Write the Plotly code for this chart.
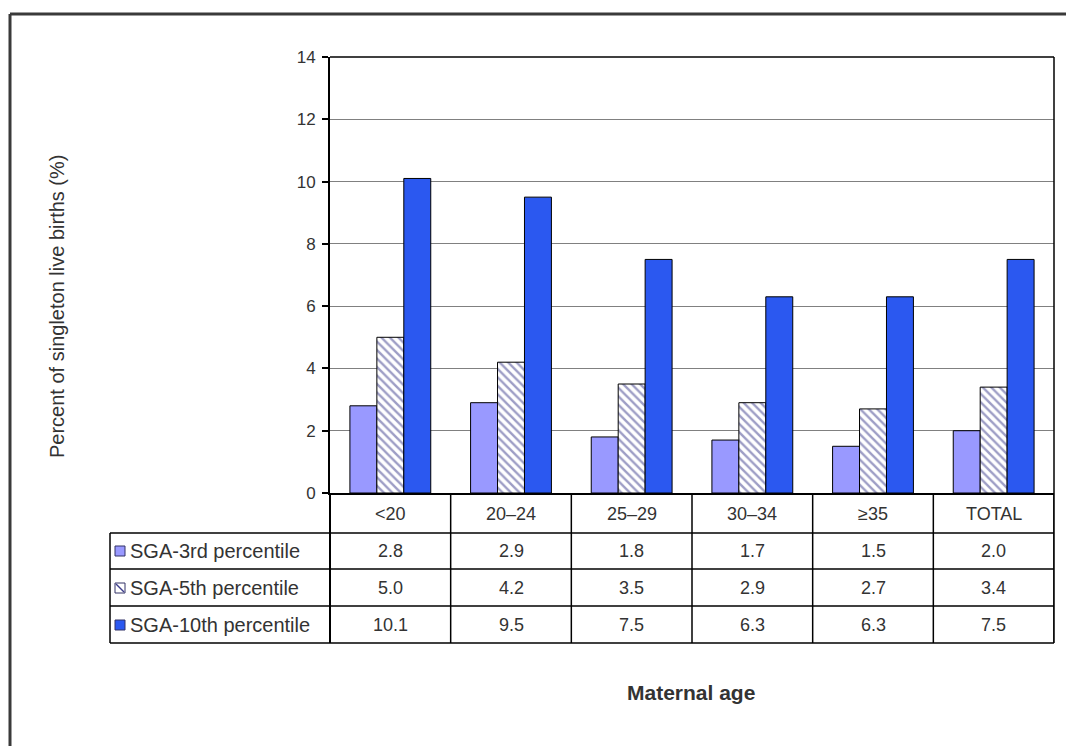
import plotly.graph_objects as go

categories = ["<20", "20\u201324", "25\u201329", "30\u201334", "\u226535", "TOTAL"]
series_names = ["SGA-3rd percentile", "SGA-5th percentile", "SGA-10th percentile"]
sga3 = [2.8, 2.9, 1.8, 1.7, 1.5, 2.0]
sga5 = [5.0, 4.2, 3.5, 2.9, 2.7, 3.4]
sga10 = [10.1, 9.5, 7.5, 6.3, 6.3, 7.5]
y_ticks = [0, 2, 4, 6, 8, 10, 12, 14]

OFF = 8  # page body margin
W, H = 1074 - OFF, 746 - OFF
# plot area in page pixels
PL, PR, PT, PB = 330, 1054, 57, 493
L, R, T, B = PL - OFF, PR - OFF, PT - OFF, PB - OFF


def px(x):  # page pixel -> paper
    return (x - PL) / (PR - PL)


def py(y):
    return (PB - y) / (PB - PT)


FONT = "Liberation Sans, Arial, sans-serif"
TXT = "#333333"
c3, c5line, c10 = "#9999FF", "#3C3C8C", "#2B58F0"

fig = go.Figure()
fig.add_trace(go.Bar(x=categories, y=sga3, name=series_names[0],
                     marker=dict(color=c3, line=dict(color="#000000", width=1))))
fig.add_trace(go.Bar(x=categories, y=sga5, name=series_names[1],
                     marker=dict(color="white", line=dict(color="#000000", width=1),
                                 pattern=dict(shape="\\", fgcolor=c5line, bgcolor="white",
                                              size=6, solidity=0.4, fillmode="overlay"))))
fig.add_trace(go.Bar(x=categories, y=sga10, name=series_names[2],
                     marker=dict(color=c10, line=dict(color="#000000", width=1))))

shapes = []
line_dark = dict(color="#000000", width=1.5)
# outer frame (top and left)
shapes.append(dict(type="line", xref="paper", yref="paper", x0=px(10), x1=px(1090),
                   y0=py(14), y1=py(14), line=dict(color="#3a3a3a", width=3)))
shapes.append(dict(type="line", xref="paper", yref="paper", x0=px(10), x1=px(10),
                   y0=py(14), y1=py(770), line=dict(color="#3a3a3a", width=3)))
# plot area top and right border
shapes.append(dict(type="line", xref="paper", yref="paper", x0=0, x1=1, y0=1, y1=1, line=line_dark))
shapes.append(dict(type="line", xref="paper", yref="paper", x0=1, x1=1, y0=py(643), y1=1, line=line_dark))
# table vertical lines at category boundaries
for k in range(len(categories)):
    shapes.append(dict(type="line", xref="x", yref="paper", x0=k + 0.5, x1=k + 0.5,
                       y0=py(643), y1=0, line=line_dark))
shapes.append(dict(type="line", xref="paper", yref="paper", x0=0, x1=0,
                   y0=py(643), y1=0, line=dict(color="#000000", width=2)))
shapes.append(dict(type="line", xref="paper", yref="paper", x0=px(110), x1=px(110),
                   y0=py(643), y1=py(533), line=line_dark))
row_lines = [533, 569, 606, 643]
for yy in row_lines:
    shapes.append(dict(type="line", xref="paper", yref="paper", x0=px(110), x1=1,
                       y0=py(yy), y1=py(yy), line=line_dark))

annotations = []
# category labels row
for c in categories:
    annotations.append(dict(x=c, y=py(514), xref="x", yref="paper", text=c, showarrow=False,
                            font=dict(family=FONT, size=18, color=TXT), xanchor="center", yanchor="middle"))
rows = [sga3, sga5, sga10]
row_centers = [551, 588, 625]
markers = [c3, "pattern", c10]
for i, (vals, yc) in enumerate(zip(rows, row_centers)):
    for c, v in zip(categories, vals):
        annotations.append(dict(x=c, y=py(yc), xref="x", yref="paper", text=f"{v:.1f}", showarrow=False,
                                font=dict(family=FONT, size=18, color=TXT), xanchor="center", yanchor="middle"))
    annotations.append(dict(x=px(128), y=py(yc), xref="paper", yref="paper", text=series_names[i],
                            showarrow=False, font=dict(family=FONT, size=20, color=TXT),
                            xanchor="left", yanchor="middle"))
    fill = "white" if markers[i] == "pattern" else markers[i]
    shapes.append(dict(type="rect", xref="paper", yref="paper", x0=px(115), x1=px(125),
                       y0=py(yc + 5), y1=py(yc - 5), fillcolor=fill,
                       line=dict(color="#333366", width=1)))
    if markers[i] == "pattern":
        shapes.append(dict(type="line", xref="paper", yref="paper", x0=px(116), x1=px(124),
                           y0=py(yc - 4), y1=py(yc + 4), line=dict(color=c5line, width=1.5)))

annotations.append(dict(x=px(57), y=py(307), xref="paper", yref="paper",
                        text="Percent of singleton live births (%)", textangle=-90, showarrow=False,
                        font=dict(family=FONT, size=20, color=TXT), xanchor="center", yanchor="middle"))
annotations.append(dict(x=px(691), y=py(692), xref="paper", yref="paper", text="<b>Maternal age</b>",
                        showarrow=False, font=dict(family=FONT, size=21, color=TXT),
                        xanchor="center", yanchor="middle"))

fig.update_layout(
    width=W, height=H,
    margin=dict(l=L, r=W - R, t=T, b=H - B, pad=0),
    paper_bgcolor="white", plot_bgcolor="white",
    barmode="group", bargap=0.33, bargroupgap=0,
    showlegend=False,
    shapes=shapes, annotations=annotations,
    font=dict(family=FONT, color=TXT),
    xaxis=dict(showticklabels=False, showgrid=False, zeroline=False, showline=True,
               linecolor="#000000", linewidth=1.5, ticks="", range=[-0.5, 5.5]),
    yaxis=dict(range=[0, 14], tickvals=y_ticks, showgrid=True, gridcolor="#808080", gridwidth=1,
               zeroline=False, showline=True, linecolor="#000000", linewidth=2,
               ticks="outside", ticklen=6, tickcolor="#000000", tickwidth=1.5,
               tickfont=dict(family=FONT, size=17, color=TXT), ticklabelstandoff=3),
)

fig.write_html("out.html")
